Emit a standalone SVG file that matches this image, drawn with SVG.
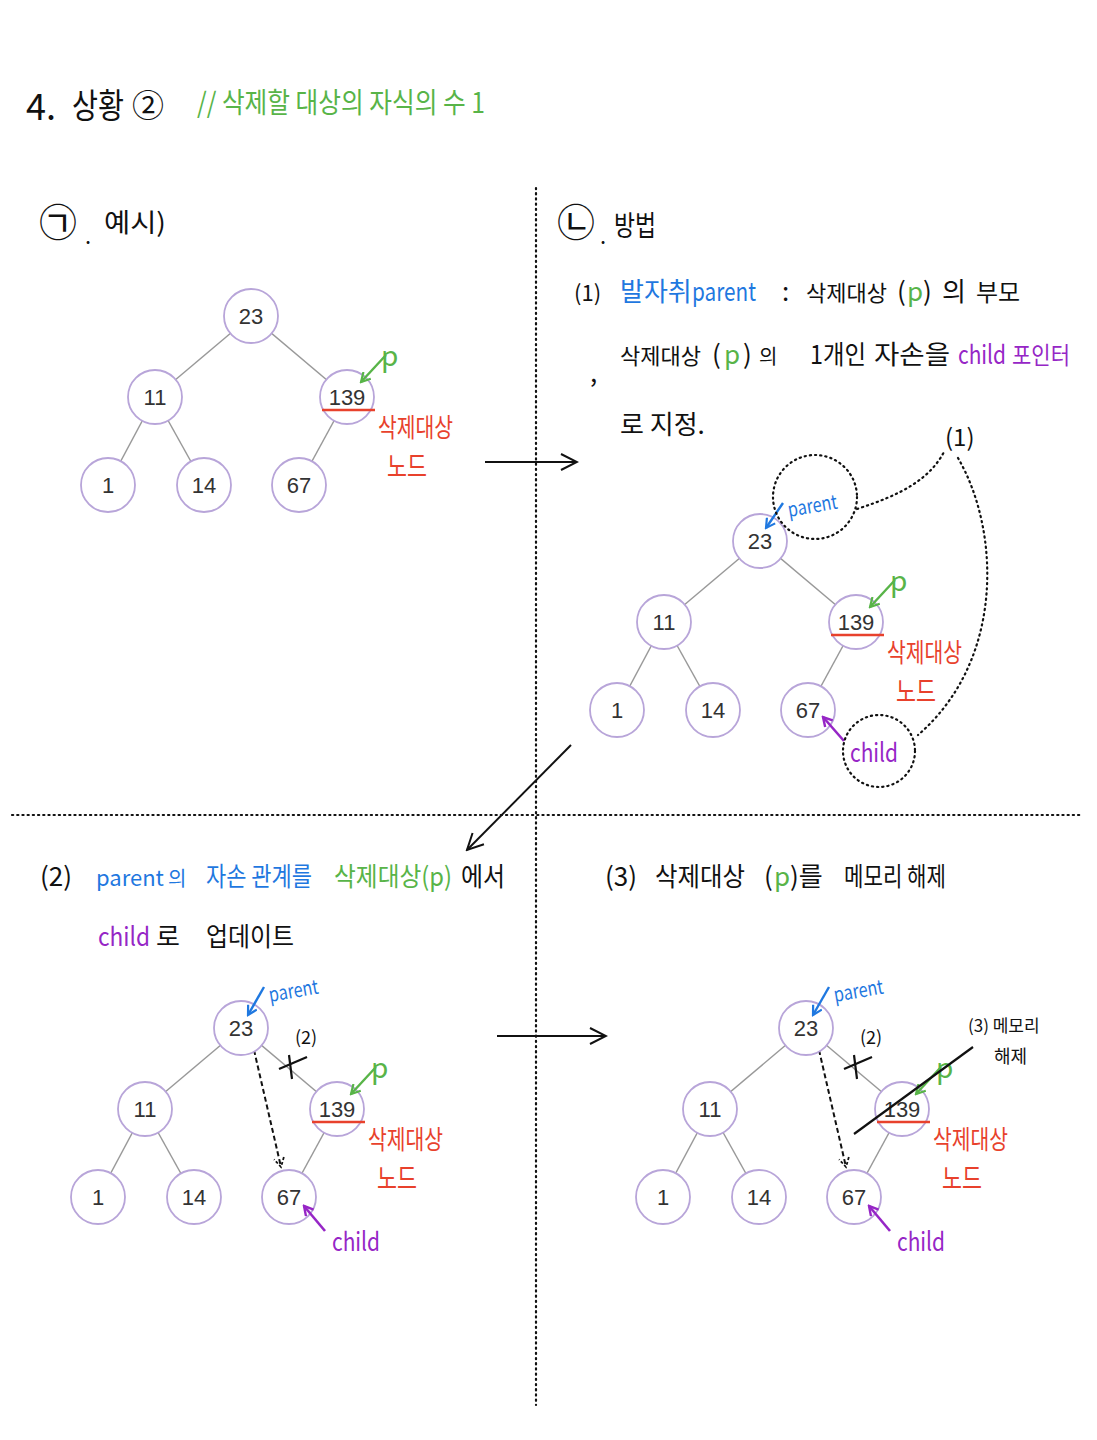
<svg xmlns="http://www.w3.org/2000/svg" width="1097" height="1440" viewBox="0 0 1097 1440">
<style>
.hw{font-family:"Noto Sans CJK KR","Noto Sans",sans-serif;}
.k{fill:#111;} .g{fill:#58b448;} .b{fill:#1f78e0;} .r{fill:#e8412c;} .pu{fill:#9626c6;}
.node circle{fill:#fff;stroke:#b8a5d9;stroke-width:1.8;}
.node text{font-family:"Liberation Sans",Arial,sans-serif;font-size:22px;fill:#333;text-anchor:middle;}
.edge line{stroke:#999;stroke-width:1.5;}
.dot{fill:none;stroke:#111;stroke-width:2.2;stroke-dasharray:1.2 4;stroke-linecap:round;}
</style>
<defs>
<marker id="mBig" viewBox="0 0 20 20" refX="18" refY="10" markerWidth="20" markerHeight="20" markerUnits="userSpaceOnUse" orient="auto"><path d="M2,2 L18,10 L2,18" fill="none" stroke="#111" stroke-width="2"/></marker>
<marker id="mK" viewBox="0 0 12 12" refX="10" refY="6" markerWidth="12" markerHeight="12" markerUnits="userSpaceOnUse" orient="auto"><path d="M1,1 L10,6 L1,11" fill="none" stroke="#111" stroke-width="1.8" stroke-dasharray="3 2"/></marker>
<marker id="mG" viewBox="0 0 12 12" refX="10" refY="6" markerWidth="12" markerHeight="12" markerUnits="userSpaceOnUse" orient="auto"><path d="M1,1 L10,6 L1,11" fill="none" stroke="#58b448" stroke-width="2.2"/></marker>
<marker id="mB" viewBox="0 0 12 12" refX="10" refY="6" markerWidth="12" markerHeight="12" markerUnits="userSpaceOnUse" orient="auto"><path d="M1,1 L10,6 L1,11" fill="none" stroke="#1f78e0" stroke-width="2.2"/></marker>
<marker id="mP" viewBox="0 0 12 12" refX="10" refY="6" markerWidth="12" markerHeight="12" markerUnits="userSpaceOnUse" orient="auto"><path d="M1,1 L10,6 L1,11" fill="none" stroke="#9626c6" stroke-width="2.4"/></marker>
</defs>
<rect width="1097" height="1440" fill="#fff"/>

<!-- title -->
<g id="title" class="hw">
<text x="26" y="120" font-size="36" class="k">4.</text>
<text x="72" y="118" font-size="34" class="k" textLength="52" lengthAdjust="spacingAndGlyphs">상황</text>
<text x="132" y="117" font-size="32" class="k">②</text>
<text x="197" y="113" font-size="28" class="g" textLength="288" lengthAdjust="spacingAndGlyphs">// 삭제할 대상의 자식의 수 1</text>
</g>

<!-- dividers -->
<g id="dividers">
<line x1="536" y1="188" x2="536" y2="1405" class="dot" stroke-width="1.8"/>
<line x1="12" y1="815" x2="1080" y2="815" class="dot" stroke-width="1.8"/>
</g>

<!-- headings and explanations -->
<g id="texts" class="hw">
<text x="39" y="236" font-size="38" class="k">㉠</text>
<text x="85" y="244" font-size="22" class="k">.</text>
<text x="104" y="232" font-size="26" class="k" textLength="62" lengthAdjust="spacingAndGlyphs">예시)</text>

<text x="557" y="236" font-size="38" class="k">㉡</text>
<text x="600" y="244" font-size="22" class="k">.</text>
<text x="614" y="236" font-size="28" class="k" textLength="42" lengthAdjust="spacingAndGlyphs">방법</text>

<text x="574" y="301" font-size="22" class="k">(1)</text>
<text x="620" y="301" font-size="26" class="b">발자취</text>
<text x="692" y="301" font-size="26" class="b" textLength="64" lengthAdjust="spacingAndGlyphs">parent</text>
<text x="782" y="301" font-size="26" class="k">:</text>
<text x="806" y="301" font-size="22" class="k">삭제대상</text>
<text x="897" y="301" font-size="26" class="k">(</text>
<text x="907" y="301" font-size="26" class="g">p</text>
<text x="923" y="301" font-size="26" class="k">)</text>
<text x="942" y="301" font-size="26" class="k">의</text>
<text x="976" y="301" font-size="24" class="k">부모</text>

<text x="590" y="382" font-size="26" class="k">,</text>
<text x="620" y="364" font-size="22" class="k">삭제대상</text>
<text x="712" y="364" font-size="26" class="k">(</text>
<text x="724" y="364" font-size="26" class="g">p</text>
<text x="743" y="364" font-size="26" class="k">)</text>
<text x="759" y="364" font-size="20" class="k">의</text>
<text x="810" y="364" font-size="26" class="k" textLength="56" lengthAdjust="spacingAndGlyphs">1개인</text>
<text x="874" y="364" font-size="26" class="k" textLength="76" lengthAdjust="spacingAndGlyphs">자손을</text>
<text x="958" y="364" font-size="26" class="pu" textLength="48" lengthAdjust="spacingAndGlyphs">child</text>
<text x="1012" y="364" font-size="24" class="pu" textLength="58" lengthAdjust="spacingAndGlyphs">포인터</text>
<text x="620" y="434" font-size="26" class="k">로 지정.</text>

<text x="40" y="886" font-size="26" class="k">(2)</text>
<text x="96" y="886" font-size="22" class="b">parent</text>
<text x="168" y="886" font-size="20" class="b">의</text>
<text x="206" y="886" font-size="26" class="b" textLength="106" lengthAdjust="spacingAndGlyphs">자손 관계를</text>
<text x="334" y="886" font-size="26" class="g" textLength="118" lengthAdjust="spacingAndGlyphs">삭제대상(p)</text>
<text x="461" y="886" font-size="26" class="k" textLength="44" lengthAdjust="spacingAndGlyphs">에서</text>
<text x="98" y="946" font-size="26" class="pu" textLength="52" lengthAdjust="spacingAndGlyphs">child</text>
<text x="156" y="946" font-size="26" class="k">로</text>
<text x="206" y="946" font-size="26" class="k" textLength="88" lengthAdjust="spacingAndGlyphs">업데이트</text>

<text x="605" y="886" font-size="26" class="k">(3)</text>
<text x="655" y="886" font-size="26" class="k" textLength="90" lengthAdjust="spacingAndGlyphs">삭제대상</text>
<text x="764" y="886" font-size="26" class="k">(</text>
<text x="774" y="886" font-size="26" class="g">p</text>
<text x="790" y="886" font-size="26" class="k">)를</text>
<text x="844" y="886" font-size="26" class="k" textLength="102" lengthAdjust="spacingAndGlyphs">메모리 해제</text>
</g>

<!-- connectors -->
<g id="connectors">
<g class="edge"><line x1="251" y1="316" x2="155" y2="397"/><line x1="251" y1="316" x2="347" y2="397"/><line x1="155" y1="397" x2="108" y2="485"/><line x1="155" y1="397" x2="204" y2="485"/><line x1="347" y1="397" x2="299" y2="485"/></g>
<g class="edge" transform="translate(509,225)"><line x1="251" y1="316" x2="155" y2="397"/><line x1="251" y1="316" x2="347" y2="397"/><line x1="155" y1="397" x2="108" y2="485"/><line x1="155" y1="397" x2="204" y2="485"/><line x1="347" y1="397" x2="299" y2="485"/></g>
<g class="edge" transform="translate(-10,712)"><line x1="251" y1="316" x2="155" y2="397"/><line x1="251" y1="316" x2="347" y2="397"/><line x1="155" y1="397" x2="108" y2="485"/><line x1="155" y1="397" x2="204" y2="485"/><line x1="347" y1="397" x2="299" y2="485"/></g>
<g class="edge" transform="translate(555,712)"><line x1="251" y1="316" x2="155" y2="397"/><line x1="251" y1="316" x2="347" y2="397"/><line x1="155" y1="397" x2="108" y2="485"/><line x1="155" y1="397" x2="204" y2="485"/><line x1="347" y1="397" x2="299" y2="485"/></g>
<line x1="485" y1="462" x2="577" y2="462" stroke="#111" stroke-width="2" marker-end="url(#mBig)"/>
<line x1="571" y1="745" x2="467" y2="850" stroke="#111" stroke-width="2" marker-end="url(#mBig)"/>
<line x1="497" y1="1036" x2="606" y2="1036" stroke="#111" stroke-width="2" marker-end="url(#mBig)"/>
<line x1="254" y1="1050" x2="281" y2="1167" stroke="#111" stroke-width="2" stroke-dasharray="5 3" marker-end="url(#mK)"/>
<line x1="819" y1="1050" x2="846" y2="1167" stroke="#111" stroke-width="2" stroke-dasharray="5 3" marker-end="url(#mK)"/>
</g>

<!-- nodes -->
<g id="tree1">
<g id="t1-n23" class="node"><circle cx="251" cy="316" r="27"/><text x="251" y="324">23</text></g>
<g id="t1-n11" class="node"><circle cx="155" cy="397" r="27"/><text x="155" y="405">11</text></g>
<g id="t1-n139" class="node"><circle cx="347" cy="397" r="27"/><text x="347" y="405">139</text></g>
<g id="t1-n1" class="node"><circle cx="108" cy="485" r="27"/><text x="108" y="493">1</text></g>
<g id="t1-n14" class="node"><circle cx="204" cy="485" r="27"/><text x="204" y="493">14</text></g>
<g id="t1-n67" class="node"><circle cx="299" cy="485" r="27"/><text x="299" y="493">67</text></g>
</g>
<g id="tree2" transform="translate(509,225)">
<g id="t2-n23" class="node"><circle cx="251" cy="316" r="27"/><text x="251" y="324">23</text></g>
<g id="t2-n11" class="node"><circle cx="155" cy="397" r="27"/><text x="155" y="405">11</text></g>
<g id="t2-n139" class="node"><circle cx="347" cy="397" r="27"/><text x="347" y="405">139</text></g>
<g id="t2-n1" class="node"><circle cx="108" cy="485" r="27"/><text x="108" y="493">1</text></g>
<g id="t2-n14" class="node"><circle cx="204" cy="485" r="27"/><text x="204" y="493">14</text></g>
<g id="t2-n67" class="node"><circle cx="299" cy="485" r="27"/><text x="299" y="493">67</text></g>
</g>
<g id="tree3" transform="translate(-10,712)">
<g id="t3-n23" class="node"><circle cx="251" cy="316" r="27"/><text x="251" y="324">23</text></g>
<g id="t3-n11" class="node"><circle cx="155" cy="397" r="27"/><text x="155" y="405">11</text></g>
<g id="t3-n139" class="node"><circle cx="347" cy="397" r="27"/><text x="347" y="405">139</text></g>
<g id="t3-n1" class="node"><circle cx="108" cy="485" r="27"/><text x="108" y="493">1</text></g>
<g id="t3-n14" class="node"><circle cx="204" cy="485" r="27"/><text x="204" y="493">14</text></g>
<g id="t3-n67" class="node"><circle cx="299" cy="485" r="27"/><text x="299" y="493">67</text></g>
</g>
<g id="tree4" transform="translate(555,712)">
<g id="t4-n23" class="node"><circle cx="251" cy="316" r="27"/><text x="251" y="324">23</text></g>
<g id="t4-n11" class="node"><circle cx="155" cy="397" r="27"/><text x="155" y="405">11</text></g>
<g id="t4-n139" class="node"><circle cx="347" cy="397" r="27"/><text x="347" y="405">139</text></g>
<g id="t4-n1" class="node"><circle cx="108" cy="485" r="27"/><text x="108" y="493">1</text></g>
<g id="t4-n14" class="node"><circle cx="204" cy="485" r="27"/><text x="204" y="493">14</text></g>
<g id="t4-n67" class="node"><circle cx="299" cy="485" r="27"/><text x="299" y="493">67</text></g>
</g>

<!-- annotations -->
<g id="ann1" class="hw">
<line x1="322" y1="410" x2="375" y2="410" stroke="#e8412c" stroke-width="2.5"/>
<text x="378" y="437" font-size="26" class="r" textLength="75" lengthAdjust="spacingAndGlyphs">삭제대상</text>
<text x="387" y="477" font-size="28" class="r" textLength="40" lengthAdjust="spacingAndGlyphs">노드</text>
<line x1="386" y1="355" x2="361" y2="382" stroke="#58b448" stroke-width="2.4" marker-end="url(#mG)"/>
<text x="381" y="366" font-size="28" class="g">p</text>
</g>
<g id="ann2" class="hw" transform="translate(509,225)">
<line x1="322" y1="410" x2="375" y2="410" stroke="#e8412c" stroke-width="2.5"/>
<text x="378" y="437" font-size="26" class="r" textLength="75" lengthAdjust="spacingAndGlyphs">삭제대상</text>
<text x="387" y="477" font-size="28" class="r" textLength="40" lengthAdjust="spacingAndGlyphs">노드</text>
<line x1="386" y1="355" x2="361" y2="382" stroke="#58b448" stroke-width="2.4" marker-end="url(#mG)"/>
<text x="381" y="366" font-size="28" class="g">p</text>
<line x1="274" y1="278" x2="257" y2="303" stroke="#1f78e0" stroke-width="2.4" marker-end="url(#mB)"/>
<text x="280" y="292" font-size="20" class="b" transform="rotate(-10 280 292)" textLength="50" lengthAdjust="spacingAndGlyphs">parent</text>
<line x1="335" y1="516" x2="314" y2="492" stroke="#9626c6" stroke-width="2.6" marker-end="url(#mP)"/>
<text x="341" y="537" font-size="26" class="pu" textLength="48" lengthAdjust="spacingAndGlyphs">child</text>
</g>
<g id="ann3" class="hw" transform="translate(-10,712)">
<line x1="322" y1="410" x2="375" y2="410" stroke="#e8412c" stroke-width="2.5"/>
<text x="378" y="437" font-size="26" class="r" textLength="75" lengthAdjust="spacingAndGlyphs">삭제대상</text>
<text x="387" y="477" font-size="28" class="r" textLength="40" lengthAdjust="spacingAndGlyphs">노드</text>
<line x1="386" y1="355" x2="361" y2="382" stroke="#58b448" stroke-width="2.4" marker-end="url(#mG)"/>
<text x="381" y="366" font-size="28" class="g">p</text>
<line x1="274" y1="275" x2="258" y2="303" stroke="#1f78e0" stroke-width="2.4" marker-end="url(#mB)"/>
<text x="280" y="290" font-size="20" class="b" transform="rotate(-10 280 290)" textLength="50" lengthAdjust="spacingAndGlyphs">parent</text>
<line x1="335" y1="519" x2="314" y2="494" stroke="#9626c6" stroke-width="2.6" marker-end="url(#mP)"/>
<text x="342" y="539" font-size="26" class="pu" textLength="48" lengthAdjust="spacingAndGlyphs">child</text>
<text x="305" y="332" font-size="18" class="k">(2)</text>
<line x1="299" y1="343" x2="302" y2="367" stroke="#111" stroke-width="2.2"/>
<line x1="289" y1="357" x2="317" y2="345" stroke="#111" stroke-width="2.2"/>
</g>
<g id="ann4" class="hw" transform="translate(555,712)">
<line x1="322" y1="410" x2="375" y2="410" stroke="#e8412c" stroke-width="2.5"/>
<text x="378" y="437" font-size="26" class="r" textLength="75" lengthAdjust="spacingAndGlyphs">삭제대상</text>
<text x="387" y="477" font-size="28" class="r" textLength="40" lengthAdjust="spacingAndGlyphs">노드</text>
<line x1="386" y1="355" x2="361" y2="382" stroke="#58b448" stroke-width="2.4" marker-end="url(#mG)"/>
<text x="381" y="366" font-size="28" class="g">p</text>
<line x1="274" y1="275" x2="258" y2="303" stroke="#1f78e0" stroke-width="2.4" marker-end="url(#mB)"/>
<text x="280" y="290" font-size="20" class="b" transform="rotate(-10 280 290)" textLength="50" lengthAdjust="spacingAndGlyphs">parent</text>
<line x1="335" y1="519" x2="314" y2="494" stroke="#9626c6" stroke-width="2.6" marker-end="url(#mP)"/>
<text x="342" y="539" font-size="26" class="pu" textLength="48" lengthAdjust="spacingAndGlyphs">child</text>
<text x="305" y="332" font-size="18" class="k">(2)</text>
<line x1="299" y1="343" x2="302" y2="367" stroke="#111" stroke-width="2.2"/>
<line x1="289" y1="357" x2="317" y2="345" stroke="#111" stroke-width="2.2"/>
<line x1="299" y1="422" x2="418" y2="335" stroke="#111" stroke-width="2.2"/>
<text x="413" y="320" font-size="17" class="k">(3) 메모리</text>
<text x="439" y="351" font-size="18" class="k">해제</text>
</g>

<!-- (1) grouping in panel 2 -->
<g id="grouping1" class="hw">
<circle cx="815" cy="497" r="42" class="dot"/>
<circle cx="879" cy="751" r="36" class="dot"/>
<path d="M857 509 C 900 495, 930 480, 945 450" class="dot"/>
<path d="M958 458 C 1000 530, 1005 660, 918 735" class="dot"/>
<text x="945" y="446" font-size="24" class="k">(1)</text>
</g>
</svg>
